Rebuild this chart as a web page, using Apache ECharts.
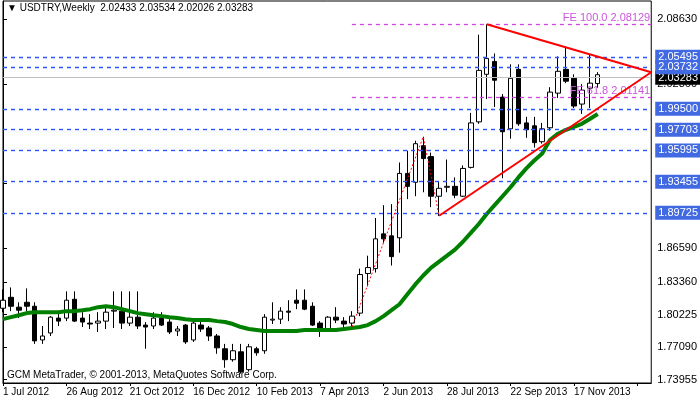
<!DOCTYPE html>
<html><head><meta charset="utf-8">
<script src="https://cdn.jsdelivr.net/npm/echarts@6/dist/echarts.min.js"></script>
<style>html,body{margin:0;padding:0;background:#fff}#c{width:700px;height:402px}</style>
</head><body><div id="c"></div>
<script>
const dateLabels = ["1 Jul 2012","26 Aug 2012","21 Oct 2012","16 Dec 2012","10 Feb 2013","7 Apr 2013","2 Jun 2013","28 Jul 2013","22 Sep 2013","17 Nov 2013"];
// [open, close, low, high] per week
const ohlc = [
[1.8083,1.8160,1.8045,1.8264],[1.8188,1.8102,1.8055,1.8283],[1.8093,1.8064,1.7988,1.8140],[1.8140,1.8102,1.8055,1.8274],
[1.8102,1.7769,1.7740,1.8140],[1.7778,1.7816,1.7740,1.7912],[1.7845,1.7997,1.7816,1.8007],[1.7988,1.7959,1.7912,1.8045],
[1.7988,1.8160,1.7959,1.8245],[1.8169,1.7959,1.7950,1.8245],[1.7988,1.7950,1.7902,1.8045],[1.7940,1.7931,1.7883,1.8026],
[1.7940,1.7959,1.7855,1.8045],[1.7959,1.8045,1.7883,1.8093],[1.8055,1.8064,1.7893,1.8245],[1.8055,1.7940,1.7883,1.8245],
[1.7940,1.7997,1.7912,1.8245],[1.7997,1.7912,1.7883,1.8245],[1.7921,1.7902,1.7693,1.7950],[1.7912,1.7988,1.7883,1.8045],
[1.7988,1.7921,1.7912,1.8045],[1.7950,1.7855,1.7835,1.7978],[1.7864,1.7883,1.7816,1.7912],[1.7921,1.7759,1.7740,1.7931],
[1.7778,1.7940,1.7759,1.7959],[1.7921,1.7883,1.7855,1.7978],[1.7893,1.7816,1.7769,1.7912],[1.7816,1.7702,1.7645,1.7835],
[1.7693,1.7588,1.7511,1.7740],[1.7588,1.7674,1.7569,1.7740],[1.7664,1.7473,1.7454,1.7740],[1.7492,1.7712,1.7473,1.7740],
[1.7693,1.7654,1.7626,1.7712],[1.7674,1.7997,1.7645,1.8026],[1.7969,1.7978,1.7931,1.8140],[1.7978,1.8055,1.7931,1.8093],
[1.8055,1.8045,1.7959,1.8160],[1.8160,1.8131,1.8074,1.8264],[1.8160,1.8074,1.8064,1.8264],[1.8102,1.7921,1.7912,1.8140],
[1.7940,1.7864,1.7807,1.7959],[1.7874,1.7997,1.7864,1.8007],[1.7997,1.7969,1.7940,1.8093],[1.7959,1.7931,1.7883,1.7997],
[1.7940,1.8007,1.7902,1.8055],[1.8036,1.8407,1.8007,1.8464],[1.8417,1.8474,1.8293,1.8588],[1.8464,1.8750,1.8426,1.8951],
[1.8798,1.8750,1.8712,1.9074],[1.8779,1.8579,1.8493,1.9084],[1.8760,1.9379,1.8617,1.9484],[1.9379,1.9255,1.9132,1.9598],
[1.9294,1.9665,1.9160,1.9694],[1.9646,1.9522,1.9198,1.9732],[1.9541,1.9160,1.9055,1.9579],[1.9160,1.9236,1.8970,1.9303],
[1.9246,1.9255,1.9198,1.9513],[1.9255,1.9170,1.9141,1.9341],[1.9160,1.9427,1.9151,1.9456],[1.9437,1.9865,1.9427,1.9961],
[1.9875,2.0370,1.9856,2.0713],[2.0332,2.0485,2.0094,2.0813],[2.0456,2.0275,2.0018,2.0532],[2.0113,1.9780,1.9332,2.0142],
[1.9808,2.0294,1.9713,2.0428],[2.0380,1.9856,1.9837,2.0428],[1.9865,1.9799,1.9722,1.9923],[1.9837,1.9675,1.9627,1.9923],
[1.9684,1.9808,1.9665,1.9865],[1.9818,2.0161,1.9789,2.0208],[2.0151,2.0361,2.0104,2.0504],[2.0380,2.0266,2.0247,2.0599],
[2.0294,2.0027,2.0008,2.0332],[2.0046,2.0180,1.9951,2.0237],[2.0199,2.0247,2.0008,2.0523],[2.02433,2.03283,2.02026,2.03534]
];
const maValues = [1.7978,1.7997,1.8016,1.8036,1.8045,1.8045,1.8045,1.8045,1.8055,1.8055,1.8064,1.8074,1.8093,1.8102,1.8093,1.8074,
1.8055,1.8036,1.8026,1.8016,1.8007,1.7997,1.7988,1.7978,1.7969,1.7969,1.7969,1.7959,1.7950,1.7931,1.7902,1.7883,
1.7874,1.7864,1.7864,1.7864,1.7864,1.7864,1.7874,1.7874,1.7874,1.7874,1.7874,1.7883,1.7893,1.7902,1.7921,1.7959,
1.8007,1.8064,1.8121,1.8217,1.8312,1.8398,1.8474,1.8531,1.8588,1.8646,1.8722,1.8808,1.8893,1.8989,1.9074,1.9160,
1.9246,1.9341,1.9427,1.9503,1.9570,1.9703,1.9761,1.9799,1.9827,1.9856,1.9903,1.9951];
const yTicks = [2.08630,2.02360,1.92860,1.86590,1.83360,1.80225,1.77090,1.73955];
const levels = [2.05495,2.03732,1.99500,1.97703,1.95995,1.93455,1.89725];
const lastPrice = 2.03283;
const fePoints = [[44,1.7902],[53,1.9732],[55,1.89725]];
const feLevels = [[100.0,2.08129],[61.8,2.01141]];
const triLower = [[55,1.89725],[81.75,2.0352]];
const triUpper = [[61,2.08129],[81.75,2.0352]];

const font = 'Liberation Sans';
const fs = 10;
const chart = echarts.init(document.getElementById('c'));
const candleData = ohlc.map((d,i)=>[i,d[0],d[1],d[2],d[3]]);
const boxLabel = (txt,bg)=>({show:true,position:'end',formatter:txt,color:'#fff',backgroundColor:bg,padding:[2,3,1,3],distance:4,fontFamily:font,fontSize:11});
const lvlLines = levels.map(v=>({yAxis:v,label:boxLabel(v.toFixed(5),'#4169e1')}));
const feLines = feLevels.map(f=>[
  {coord:[44,f[1]],label:{show:true,position:'insideEndTop',formatter:'FE '+f[0].toFixed(1)+' '+f[1].toFixed(5),color:'#cc55dd',fontFamily:font,fontSize:11,distance:[1,1]}},
  {coord:[81.75,f[1]]}]);

chart.setOption({
  animation:false,
  textStyle:{fontFamily:font},
  grid:{left:3,right:43,top:1,bottom:19,show:true,borderColor:'#000',borderWidth:1},
  xAxis:{type:'value',min:0,max:81.75,interval:8,
    axisLine:{show:true,lineStyle:{color:'#000'}},axisTick:{show:true,length:3,lineStyle:{color:'#000'}},
    splitLine:{show:false},
    axisLabel:{align:'left',margin:4,color:'#000',fontFamily:font,fontSize:fs,showMaxLabel:false,
      formatter:v=>dateLabels[Math.round(v/8)]||''}},
  yAxis:{type:'value',position:'right',min:1.7364,max:2.1037,scale:true,
    axisLine:{show:true,lineStyle:{color:'#000'}},
    axisTick:{show:true,length:4,customValues:yTicks,lineStyle:{color:'#000'}},
    splitLine:{show:false},
    axisLabel:{customValues:yTicks,margin:6,color:'#000',fontFamily:font,fontSize:11,formatter:v=>v.toFixed(5)}},
  graphic:[
    {type:'text',left:7,top:3,style:{text:'\u25BC USDTRY,Weekly  2.02433 2.03534 2.02026 2.03283',fill:'#000',font:'10px "Liberation Sans"'}},
    {type:'text',left:7,top:370,style:{text:'GCM MetaTrader, \u00A9 2001-2013, MetaQuotes Software Corp.',fill:'#000',font:'10px "Liberation Sans"'}}
  ],
  series:[
    {type:'line',data:[],markLine:{symbol:'none',silent:true,lineStyle:{color:'#c0c0c0',type:'solid',width:1},
      data:[{yAxis:lastPrice,label:boxLabel(lastPrice.toFixed(5),'#000')}]},z:1},
    {type:'line',data:[],markLine:{symbol:'none',silent:true,lineStyle:{color:'#2a55ff',type:[4,4],width:1.4},data:lvlLines},z:2},
    {type:'line',data:[],markLine:{symbol:'none',silent:true,lineStyle:{color:'#cc44dd',type:[4,4],width:1.3},data:feLines},z:1},
    {type:'candlestick',data:candleData,encode:{x:0,y:[1,2,3,4]},barWidth:5,clip:true,
      itemStyle:{color:'#fff',color0:'#000',borderColor:'#000',borderColor0:'#000',borderWidth:1},z:3},
    {type:'line',data:maValues.map((v,i)=>[i,v]),showSymbol:false,lineStyle:{color:'#008000',width:4},z:4},
    {type:'line',data:fePoints,showSymbol:false,lineStyle:{color:'#ff0000',width:1,type:[2,2]},z:5},
    {type:'line',data:triLower,showSymbol:false,lineStyle:{color:'#ff0000',width:2},z:5},
    {type:'line',data:triUpper,showSymbol:false,lineStyle:{color:'#ff0000',width:2},z:5}
  ]
});
</script></body></html>
